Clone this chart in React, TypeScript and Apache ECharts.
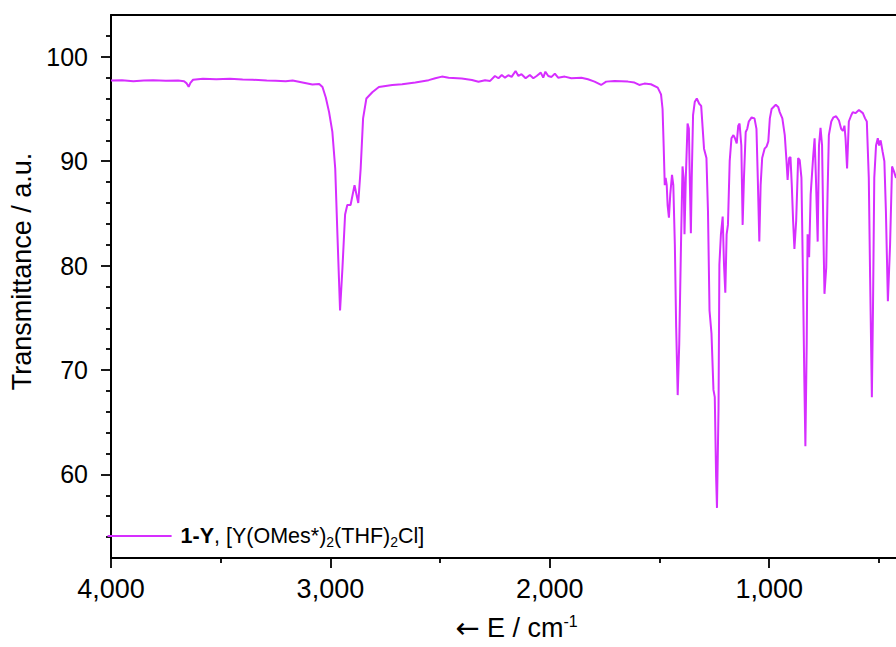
import { useEffect, useRef } from "react";
import * as echarts from "echarts";

// IR spectrum of 1-Y (cm-1 / %T)
const wavenumber = [
  4000, 3950, 3898, 3850, 3808, 3750, 3694, 3667, 3655, 3646, 3638, 3626, 3581, 3520, 3458, 3400,
  3354, 3290, 3250, 3204, 3172, 3082, 3051, 3036, 3021, 3006, 2991, 2978, 2968, 2956, 2945, 2933,
  2923, 2908, 2890, 2873, 2862, 2851, 2836, 2809, 2779, 2718, 2673, 2613, 2552, 2522, 2492, 2461,
  2401, 2355, 2325, 2295, 2272, 2250, 2234, 2219, 2204, 2189, 2174, 2156, 2143, 2129, 2110, 2091,
  2075, 2060, 2041, 2030, 2020, 2007, 1992, 1977, 1962, 1932, 1902, 1856, 1826, 1796, 1766, 1743,
  1705, 1644, 1614, 1592, 1569, 1539, 1508, 1493, 1486, 1481, 1476, 1472, 1467, 1463, 1457, 1451,
  1443, 1437, 1430, 1424, 1417, 1410, 1402, 1395, 1390, 1386, 1380, 1372, 1366, 1362, 1357, 1353,
  1347, 1339, 1330, 1319, 1310, 1303, 1297, 1286, 1279, 1272, 1263, 1254, 1248, 1242, 1238, 1231,
  1227, 1220, 1212, 1206, 1200, 1194, 1188, 1180, 1172, 1163, 1156, 1148, 1141, 1135, 1127, 1121,
  1115, 1107, 1100, 1093, 1080, 1067, 1058, 1052, 1045, 1039, 1032, 1021, 1012, 1004, 997, 989,
  970, 959, 952, 940, 929, 921, 916, 909, 903, 897, 891, 885, 877, 868, 861, 853,
  846, 840, 835, 829, 825, 818, 811, 800, 793, 787, 779, 773, 766, 759, 752, 748,
  740, 734, 728, 717, 707, 695, 682, 672, 664, 657, 652, 645, 637, 626, 619, 607,
  591, 573, 563, 555, 546, 540, 532, 527, 521, 513, 505, 499, 492, 483, 475, 468,
  459, 449, 440, 431, 422,
];
const transmittance = [
  97.72, 97.74, 97.66, 97.72, 97.74, 97.7, 97.72, 97.65, 97.45, 97.12, 97.5, 97.8, 97.9, 97.85, 97.9, 97.82,
  97.8, 97.72, 97.7, 97.66, 97.72, 97.34, 97.4, 97.1, 96.1, 94.7, 92.8, 89.3, 83.0, 75.7, 79.8, 84.9,
  85.8, 85.8, 87.7, 86.0, 89.3, 94.1, 96.0, 96.6, 97.1, 97.3, 97.37, 97.53, 97.76, 97.94, 98.1, 98.0,
  97.91, 97.78, 97.6, 97.76, 97.69, 98.16, 97.94, 98.26, 98.0, 98.23, 98.07, 98.64, 98.16, 98.33, 97.94, 98.26,
  97.94, 98.16, 98.48, 98.0, 98.57, 98.16, 98.07, 98.39, 98.0, 98.1, 97.94, 98.0, 97.85, 97.62, 97.3, 97.62,
  97.69, 97.62, 97.53, 97.3, 97.43, 97.37, 97.05, 96.4, 95.0, 91.5, 87.7, 88.4, 87.7, 85.8, 84.6, 86.8,
  88.7, 87.7, 82.0, 74.1, 67.6, 72.5, 82.0, 89.5, 88.4, 83.0, 88.4, 93.6, 93.1, 88.4, 83.1, 88.4,
  94.4, 95.7, 96.0, 95.5, 95.3, 93.1, 91.2, 90.3, 85.2, 75.7, 73.5, 68.1, 67.4, 59.8, 56.8, 66.2,
  80.1, 83.0, 84.7, 80.1, 77.4, 83.0, 83.9, 90.0, 92.2, 92.5, 92.2, 91.7, 93.4, 93.6, 91.5, 83.9,
  88.4, 92.8, 93.1, 93.8, 94.2, 94.1, 93.1, 88.4, 82.3, 87.7, 90.3, 91.2, 91.4, 91.9, 94.1, 95.0,
  95.4, 95.2, 94.7, 94.1, 92.5, 90.0, 88.2, 90.3, 90.4, 87.7, 84.3, 81.6, 84.3, 90.3, 90.1, 88.4,
  78.9, 69.3, 62.7, 72.5, 83.0, 80.8, 86.8, 90.3, 92.2, 88.4, 82.3, 91.5, 93.2, 91.5, 82.0, 77.3,
  79.8, 86.8, 92.5, 93.8, 94.2, 94.3, 93.9, 93.1, 92.9, 93.4, 92.2, 89.3, 93.8, 94.4, 94.7, 94.6,
  94.9, 94.6, 94.1, 93.8, 88.4, 78.9, 67.4, 75.7, 88.4, 91.5, 92.2, 91.5, 92.0, 90.9, 90.0, 85.2,
  76.6, 82.0, 89.5, 89.0, 88.4,
];

const xMajorTicks = [1000, 2000, 3000, 4000];
const xMinorTicks = [500, 1500, 2500, 3500];
const yMajorTicks = [60, 70, 80, 90, 100];
const yMinorTicks = [54, 56, 58, 62, 64, 66, 68, 72, 74, 76, 78, 82, 84, 86, 88, 92, 94, 96, 98, 102];

const seriesName = "1-Y, [Y(OMes*)2(THF)2Cl]";
const X_MIN = 422;
const X_MAX = 4000;
const Y_MIN = 52;
const Y_MAX = 104;

const FONT = "Arial, 'Liberation Sans', sans-serif";
const LINE_COLOR = "#d62eff";

export default function App() {
  const ref = useRef<HTMLDivElement>(null);

  useEffect(() => {
    const el = ref.current;
    if (!el) return;
    const chart = echarts.init(el, undefined, { renderer: "svg" });
    const black = { color: "#000", width: 2 };
    const tickStyle = { color: "#000", width: 1.8 };
    const xBase = { type: "value", min: X_MIN, max: X_MAX, inverse: true, gridIndex: 0, splitLine: { show: false } };
    const yBase = { type: "value", min: Y_MIN, max: Y_MAX, gridIndex: 0, splitLine: { show: false } };

    chart.setOption({
      animation: false,
      backgroundColor: "#fff",
      textStyle: { fontFamily: FONT },
      grid: { left: 107.6, right: 0, top: 15, bottom: 84, containLabel: false },
      xAxis: [
        {
          ...xBase,
          position: "bottom",
          axisLine: { show: true, onZero: false, lineStyle: black },
          axisTick: { show: true, customValues: xMajorTicks, length: 10, lineStyle: tickStyle },
          axisLabel: {
            customValues: xMajorTicks,
            margin: 17,
            fontSize: 27,
            color: "#000",
            fontFamily: FONT,
            formatter: (v: number) => v.toLocaleString("en-US"),
          },
          name: "{arr|←} E / cm{sup|-1}",
          nameLocation: "middle",
          nameGap: 55,
          nameTextStyle: {
            fontSize: 27,
            color: "#000",
            fontFamily: FONT,
            padding: [0, 0, 0, 26],
            rich: {
              arr: { fontSize: 29, fontFamily: "'DejaVu Sans'", color: "#000" },
              sup: { fontSize: 16, verticalAlign: "top", fontFamily: FONT, color: "#000" },
            },
          },
        },
        {
          ...xBase,
          position: "bottom",
          axisLine: { show: false, onZero: false },
          axisTick: { show: true, customValues: xMinorTicks, length: 5, lineStyle: tickStyle },
          axisLabel: { show: false },
        },
        {
          ...xBase,
          position: "top",
          axisLine: { show: true, onZero: false, lineStyle: black },
          axisTick: { show: false },
          axisLabel: { show: false },
        },
      ],
      yAxis: [
        {
          ...yBase,
          position: "left",
          axisLine: { show: true, onZero: false, lineStyle: black },
          axisTick: { show: true, customValues: yMajorTicks, length: 10, lineStyle: tickStyle },
          axisLabel: { customValues: yMajorTicks, margin: 23, fontSize: 25, color: "#000", fontFamily: FONT },
          name: "Transmittance / a.u.",
          nameLocation: "middle",
          nameGap: 76,
          nameTextStyle: { fontSize: 27, color: "#000", fontFamily: FONT, padding: [0, 0, 0, 30] },
        },
        {
          ...yBase,
          position: "left",
          axisLine: { show: false, onZero: false },
          axisTick: { show: true, customValues: yMinorTicks, length: 5, lineStyle: tickStyle },
          axisLabel: { show: false },
        },
      ],
      legend: {
        data: [seriesName],
        left: 107.6,
        top: 525,
        padding: 0,
        orient: "vertical",
        icon: "rect",
        itemWidth: 64,
        itemHeight: 2,
        formatter: () => "{b|1-Y}{n|, [Y(OMes*)}{s|2}{n|(THF)}{s|2}{n|Cl]}",
        textStyle: {
          fontFamily: FONT,
          color: "#000",
          padding: [0, 0, 0, 4],
          rich: {
            b: { fontSize: 21.5, fontWeight: "bold", lineHeight: 26, fontFamily: FONT, color: "#000" },
            n: { fontSize: 21.5, lineHeight: 26, fontFamily: FONT, color: "#000" },
            s: { fontSize: 14, lineHeight: 14, verticalAlign: "bottom", fontFamily: FONT, color: "#000" },
          },
        },
      },
      series: [
        {
          name: seriesName,
          type: "line",
          xAxisIndex: 0,
          yAxisIndex: 0,
          data: wavenumber.map((w, i) => [w, transmittance[i]]),
          showSymbol: false,
          symbol: "none",
          lineStyle: { color: LINE_COLOR, width: 2 },
          itemStyle: { color: LINE_COLOR },
        },
      ],
    });

    return () => {
      chart.dispose();
    };
  }, []);

  return (
    <div
      ref={ref}
      style={{ position: "absolute", left: 0, top: 0, width: 896, height: 647, overflow: "hidden", background: "#fff" }}
    />
  );
}
